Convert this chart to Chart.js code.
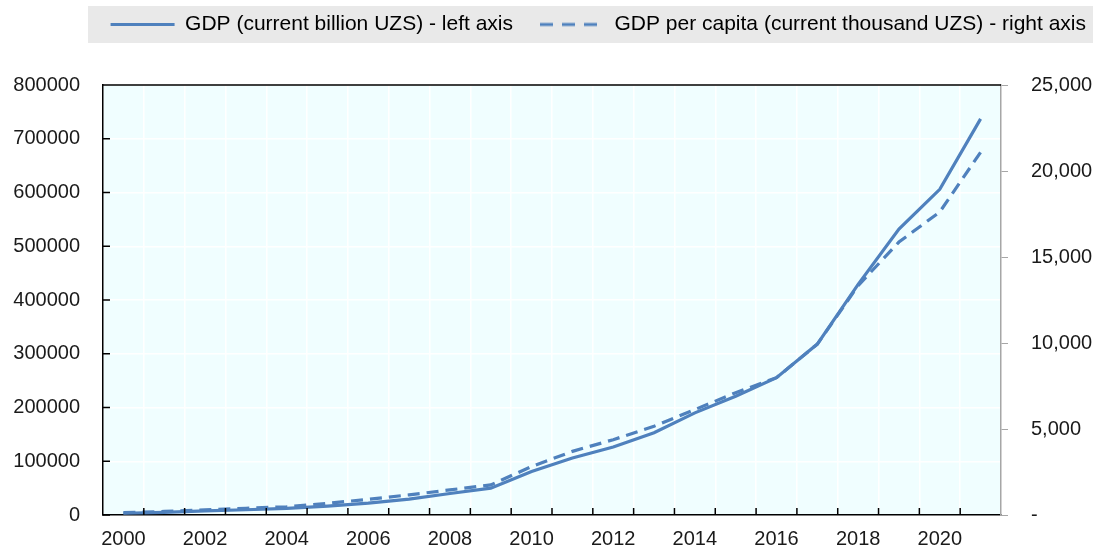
<!DOCTYPE html>
<html>
<head>
<meta charset="utf-8">
<script src="https://cdn.jsdelivr.net/npm/chart.js@4"></script>
<style>
  html, body { margin: 0; padding: 0; background: #fff; }
  #wrap { width: 1101px; height: 551px; }
</style>
</head>
<body>
<div id="wrap"><canvas id="myChart" width="1101" height="551"></canvas></div>
<script>
// datos
const years = ["2000","2001","2002","2003","2004","2005","2006","2007","2008","2009","2010",
  "2011","2012","2013","2014","2015","2016","2017","2018","2019","2020","2021"];
const gdp = [3300, 5000, 7500, 9800, 12300, 16500, 22000, 29500, 40000, 50000, 81000,
  106000, 126500, 153000, 190000, 221000, 255500, 318000, 429000, 532000, 606000, 737000];
const gdpPerCapita = [140, 205, 300, 390, 480, 680, 915, 1170, 1460, 1750, 2820,
  3700, 4380, 5160, 6130, 7110, 7985, 9930, 13340, 15870, 17620, 21090];
const leftTicks = [0, 100000, 200000, 300000, 400000, 500000, 600000, 700000, 800000];
const rightTicks = [0, 5000, 10000, 15000, 20000, 25000];

const blue = "#4F81BD";
const tickFont = { family: "'Liberation Sans', Arial, sans-serif", size: 20 };
const legendFont = { family: "'Liberation Sans', Arial, sans-serif", size: 21 };

const ctx = document.getElementById("myChart");

// muestra punteada para la leyenda (el legend de chart.js no usa el dash con pointStyle)
function dashSample(w, h) {
  const cv = document.createElement("canvas");
  cv.width = w;
  cv.height = h;
  const g = cv.getContext("2d");
  g.strokeStyle = blue;
  g.lineWidth = 3.2;
  g.setLineDash([13, 9]);
  g.beginPath();
  g.moveTo(0, h / 2);
  g.lineTo(w, h / 2);
  g.stroke();
  return cv;
}

// fondo del area, borde superior, ticks hacia adentro y caja gris de leyenda
const decor = {
  id: "decor",
  beforeLayout(chart) {
    const lg = chart.legend;
    if (lg && !lg._patched) {
      const fit = lg.fit.bind(lg);
      lg.fit = function () { fit(); this.height = 98; };
      lg._patched = true;
    }
  },
  beforeDraw(chart) {
    const c = chart.ctx;
    const a = chart.chartArea;
    c.save();
    c.fillStyle = "#E9E9E9";
    c.fillRect(88, 6, 1005, 37);
    c.fillStyle = "#F0FEFF";
    c.fillRect(a.left, a.top, a.right - a.left, a.bottom - a.top);
    c.restore();
  },
  afterDraw(chart) {
    const c = chart.ctx;
    const a = chart.chartArea;
    const x = chart.scales.x;
    const y = chart.scales.y;
    c.save();
    c.strokeStyle = "#000";
    c.lineWidth = 1.5;
    c.beginPath();
    c.moveTo(a.left, a.top);
    c.lineTo(a.right, a.top);
    y.ticks.forEach((t) => {
      const py = y.getPixelForValue(t.value);
      c.moveTo(a.left, py);
      c.lineTo(a.left + 7, py);
    });
    const n = years.length;
    const w = (x.getPixelForValue(n - 1) - x.getPixelForValue(0)) / (n - 1);
    for (let i = 1; i < n; i++) {
      const px = x.getPixelForValue(i) - w / 2;
      c.moveTo(px, a.bottom);
      c.lineTo(px, a.bottom - 7);
    }
    c.stroke();
    c.restore();
  }
};

new Chart(ctx, {
  type: "line",
  data: {
    labels: years,
    datasets: [
      {
        label: "GDP (current billion UZS) - left axis",
        data: gdp,
        yAxisID: "y",
        borderColor: blue,
        backgroundColor: blue,
        borderWidth: 3.2,
        pointRadius: 0,
        pointStyle: "line",
        tension: 0
      },
      {
        label: "GDP per capita (current thousand UZS) - right axis",
        data: gdpPerCapita,
        yAxisID: "y1",
        borderColor: blue,
        backgroundColor: blue,
        borderWidth: 3.2,
        borderDash: [12, 7],
        pointRadius: 0,
        pointStyle: dashSample(64, 8),
        tension: 0
      }
    ]
  },
  options: {
    responsive: false,
    animation: false,
    layout: { padding: { top: -13, left: 0, right: -12, bottom: 0 } },
    plugins: {
      tooltip: { enabled: false },
      legend: {
        position: "top",
        align: "end",
        labels: {
          usePointStyle: true,
          pointStyleWidth: 64,
          boxHeight: 10,
          padding: 27,
          color: "#000",
          font: legendFont
        }
      }
    },
    scales: {
      x: {
        offset: true,
        grid: { color: "#FFFFFF", lineWidth: 1.5, offset: true, drawTicks: false },
        border: { color: "#000", width: 1.5 },
        ticks: {
          autoSkip: false,
          maxRotation: 0,
          padding: 12,
          color: "#1a1a1a",
          font: tickFont,
          callback: (v, i) => (i % 2 === 0 ? years[i] : "")
        },
        afterFit: (s) => { s.height = 36; }
      },
      y: {
        position: "left",
        min: 0,
        max: 800000,
        afterBuildTicks: (s) => { s.ticks = leftTicks.map((v) => ({ value: v })); },
        grid: { color: "#FFFFFF", lineWidth: 1.5, drawTicks: false },
        border: { color: "#000", width: 1.5 },
        ticks: { padding: 23, color: "#1a1a1a", font: tickFont, callback: (v) => String(v) },
        afterFit: (s) => { s.width = 103; }
      },
      y1: {
        position: "right",
        min: 0,
        max: 25000,
        afterBuildTicks: (s) => { s.ticks = rightTicks.map((v) => ({ value: v })); },
        grid: { drawOnChartArea: false, color: "#A6A6A6", tickLength: 7 },
        border: { color: "#A6A6A6", width: 1.5 },
        ticks: {
          padding: 23,
          color: "#1a1a1a",
          font: tickFont,
          callback: (v) => (v === 0 ? "-" : v.toLocaleString("en-US"))
        },
        afterFit: (s) => { s.width = 112; }
      }
    }
  },
  plugins: [decor]
});
</script>
</body>
</html>
